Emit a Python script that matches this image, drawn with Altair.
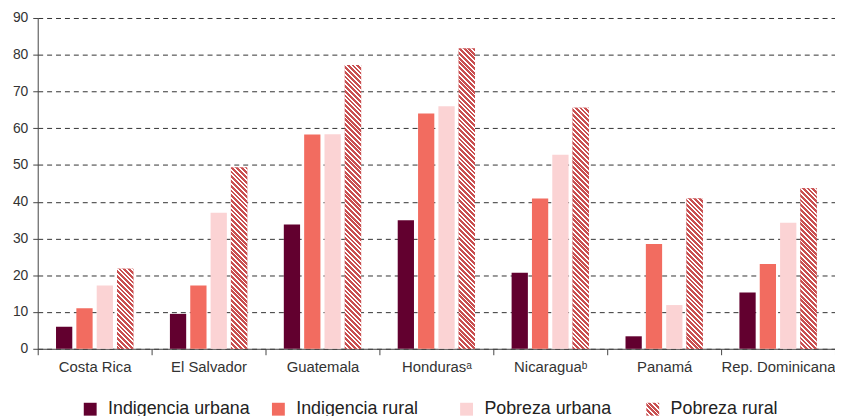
import altair as alt
import pandas as pd

countries = ["Costa Rica", "El Salvador", "Guatemala", "Honduras\u1d43",
             "Nicaragua\u1d47", "Panamá", "Rep. Dominicana"]
series = ["Indigencia urbana", "Indigencia rural", "Pobreza urbana", "Pobreza rural"]
ind_urbana = [6.0, 9.5, 33.8, 35.0, 20.7, 3.4, 15.3]
ind_rural = [11.0, 17.2, 58.3, 64.0, 40.9, 28.5, 23.1]
pob_urbana = [17.2, 37.0, 58.4, 66.0, 52.8, 11.9, 34.3]
pob_rural = [21.8, 49.3, 77.2, 81.7, 65.6, 40.9, 43.7]
y_ticks = [0, 10, 20, 30, 40, 50, 60, 70, 80, 90]

colors = ["#62002f", "#f26c60", "#fbd3d4", "#c94f50"]
RED = "#c94f50"
FONT = "Liberation Sans"

W, H = 805, 334
PAD_IN, PAD_OUT = 0.2, 0.9

rows = []
for i, c in enumerate(countries):
    for s, vals in zip(series, [ind_urbana, ind_rural, pob_urbana, pob_rural]):
        rows.append({"country": c, "ci": i, "series": s, "value": vals[i]})
df = pd.DataFrame(rows)

# bar width in px (only used to shape the hatch fill pattern)
band = W / len(countries)
step = band / (len(series) - PAD_IN + 2 * PAD_OUT)
bar_w = step * (1 - PAD_IN)


def hatch(w, h, period=4.8, frac=0.6):
    L = w + h
    k = L / (w * w + h * h)
    dt = period / L
    stops = []
    t = 0.0
    while t < 1 - 1e-9:
        a = t
        b = min(t + frac * dt, 1.0)
        c = min(t + dt, 1.0)
        stops += [
            {"offset": round(a, 5), "color": RED},
            {"offset": round(b, 5), "color": RED},
            {"offset": round(b, 5), "color": "#ffffff"},
            {"offset": round(c, 5), "color": "#ffffff"},
        ]
        t += dt
    return {"gradient": "linear", "x1": 0, "y1": 1,
            "x2": round(w * k, 5), "y2": round(1 - h * k, 5), "stops": stops}


legend_common = dict(
    title=None, orient="none", legendY=386, direction="horizontal",
    gridAlign="all", columnPadding=19, symbolType="square", symbolSize=169,
    symbolStrokeWidth=0, labelFont=FONT, labelFontSize=18,
    labelColor="#222222", labelOffset=9,
)

base = alt.Chart(df).encode(
    x=alt.X("country:N", sort=countries,
            scale=alt.Scale(paddingInner=0, paddingOuter=0),
            axis=alt.Axis(title=None, labelAngle=0, tickBand="extent",
                          labelFont=FONT, labelFontSize=15, labelColor="#333333",
                          domainColor="#444444", tickColor="#444444",
                          tickSize=6, labelPadding=5, grid=False)),
    xOffset=alt.XOffset("series:N", sort=series,
                        scale=alt.Scale(domain=series, paddingInner=PAD_IN,
                                        paddingOuter=PAD_OUT)),
    y=alt.Y("value:Q", scale=alt.Scale(domain=[0, 90], nice=False),
            axis=alt.Axis(title=None, values=y_ticks, grid=True,
                          gridDash=[5, 4], gridColor="#333333", gridWidth=1,
                          labelFont=FONT, labelFontSize=14, labelColor="#333333",
                          domainColor="#444444", tickColor="#444444",
                          tickSize=5, labelPadding=5)),
)

bars = base.mark_bar().encode(
    color=alt.Color("series:N", sort=series,
                    scale=alt.Scale(domain=series, range=colors),
                    legend=alt.Legend(legendX=44, columns=3, values=series[:3],
                                      **legend_common))
)

# legend-only layer for the hatched series (no data drawn)
hatch_legend = base.transform_filter("false").mark_bar(fill=hatch(13, 13)).encode(
    opacity=alt.Opacity("series:O",
                        scale=alt.Scale(domain=["Pobreza rural"], range=[1, 1]),
                        legend=alt.Legend(legendX=612, columns=1, **legend_common))
)

layers = [bars, hatch_legend]
for i, c in enumerate(countries):
    h = pob_rural[i] * H / 90.0
    layers.append(
        base.transform_filter((alt.datum.ci == i) & (alt.datum.series == "Pobreza rural"))
        .mark_bar(fill=hatch(bar_w, h))
    )

chart = alt.layer(*layers).properties(
    width=W, height=H,
    autosize=alt.AutoSizeParams(type="none"),
    padding={"left": 30, "top": 8, "right": 0, "bottom": 90},
).configure_view(strokeWidth=0)

chart.save("out.html", embed_options={"renderer": "svg", "actions": False})
